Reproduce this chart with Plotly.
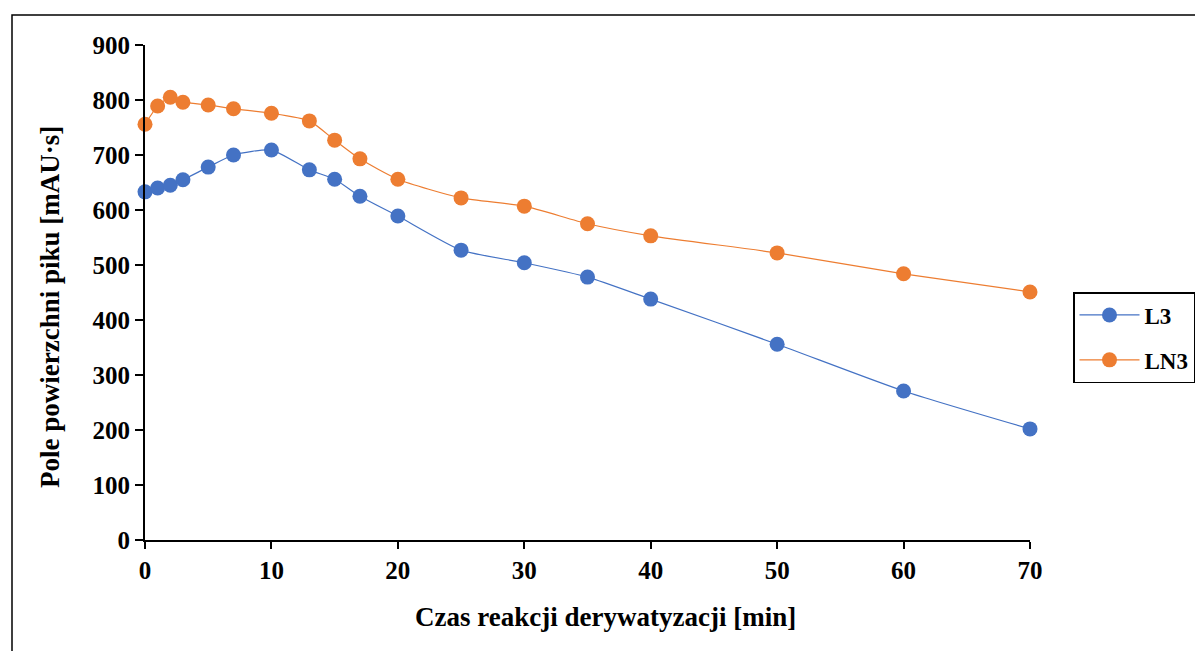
import plotly.graph_objects as go

time_min = [0, 1, 2, 3, 5, 7, 10, 13, 15, 17, 20, 25, 30, 35, 40, 50, 60, 70]
l3 = [633, 640, 645, 655, 678, 700, 709, 673, 656, 625, 589, 527, 504, 478, 438, 356, 271, 202]
ln3 = [756, 789, 805, 796, 791, 784, 776, 762, 727, 693, 656, 622, 607, 575, 553, 522, 484, 451]

x_ticks = [0, 10, 20, 30, 40, 50, 60, 70]
y_ticks = [0, 100, 200, 300, 400, 500, 600, 700, 800, 900]

# browser body margin offset
OFF = 8
W, H = 1203, 651
pw, ph = 885, 495
L = 145 - OFF
T = 45 - OFF
R = W - L - pw
B = H - T - ph

def px_x(p):
    return (p - OFF - L) / pw

def px_y(p):
    return (T + ph - (p - OFF)) / ph

font_family = "Liberation Serif, Times New Roman, serif"

fig = go.Figure()
fig.add_trace(go.Scatter(
    x=time_min, y=l3, name="L3", mode="lines+markers", legendgroup="a",
    line=dict(color="#4472C4", width=1.2, shape="spline", smoothing=0.6),
    marker=dict(color="#4472C4", size=15),
    cliponaxis=False,
))
fig.add_trace(go.Scatter(
    x=time_min, y=ln3, name="LN3", mode="lines+markers", legendgroup="b",
    line=dict(color="#ED7D31", width=1.2, shape="spline", smoothing=0.6),
    marker=dict(color="#ED7D31", size=15),
    cliponaxis=False,
))

fig.update_layout(
    width=W, height=H,
    margin=dict(l=L, r=R, t=T, b=B),
    paper_bgcolor="white", plot_bgcolor="white",
    font=dict(family=font_family, color="black"),
    showlegend=True,
    legend=dict(
        x=px_x(1073), y=px_y(292), xanchor="left", yanchor="top",
        bordercolor="black", borderwidth=1.5,
        font=dict(family=font_family, size=23, color="black", weight="bold"),
        tracegroupgap=12, itemwidth=60,
    ),
    xaxis=dict(
        range=[0, 70], tickvals=x_ticks, showgrid=False, zeroline=False,
        showline=True, linecolor="black", linewidth=2,
        ticks="outside", ticklen=7, tickwidth=1.5, tickcolor="black",
        tickfont=dict(family=font_family, size=25, color="black", weight="bold"),
    ),
    yaxis=dict(
        range=[0, 900], tickvals=y_ticks, showgrid=False, zeroline=False,
        showline=True, linecolor="black", linewidth=2,
        ticks="outside", ticklen=8, tickwidth=1.5, tickcolor="black",
        tickfont=dict(family=font_family, size=25, color="black", weight="bold"),
    ),
    shapes=[dict(
        type="rect", xref="paper", yref="paper",
        x0=px_x(12), x1=px_x(1225), y0=px_y(675), y1=px_y(15),
        line=dict(color="black", width=1.5), fillcolor="rgba(0,0,0,0)", layer="below",
    )],
    annotations=[
        dict(text="Czas reakcji derywatyzacji [min]", xref="paper", yref="paper",
             x=px_x(605), y=px_y(617), showarrow=False, xanchor="center", yanchor="middle",
             font=dict(family=font_family, size=27, color="black", weight="bold")),
        dict(text="Pole powierzchni piku [mAU·s]", xref="paper", yref="paper",
             x=px_x(50), y=px_y(307), showarrow=False, xanchor="center", yanchor="middle",
             textangle=-90,
             font=dict(family=font_family, size=27, color="black", weight="bold")),
    ],
)

fig.write_html("out.html")
